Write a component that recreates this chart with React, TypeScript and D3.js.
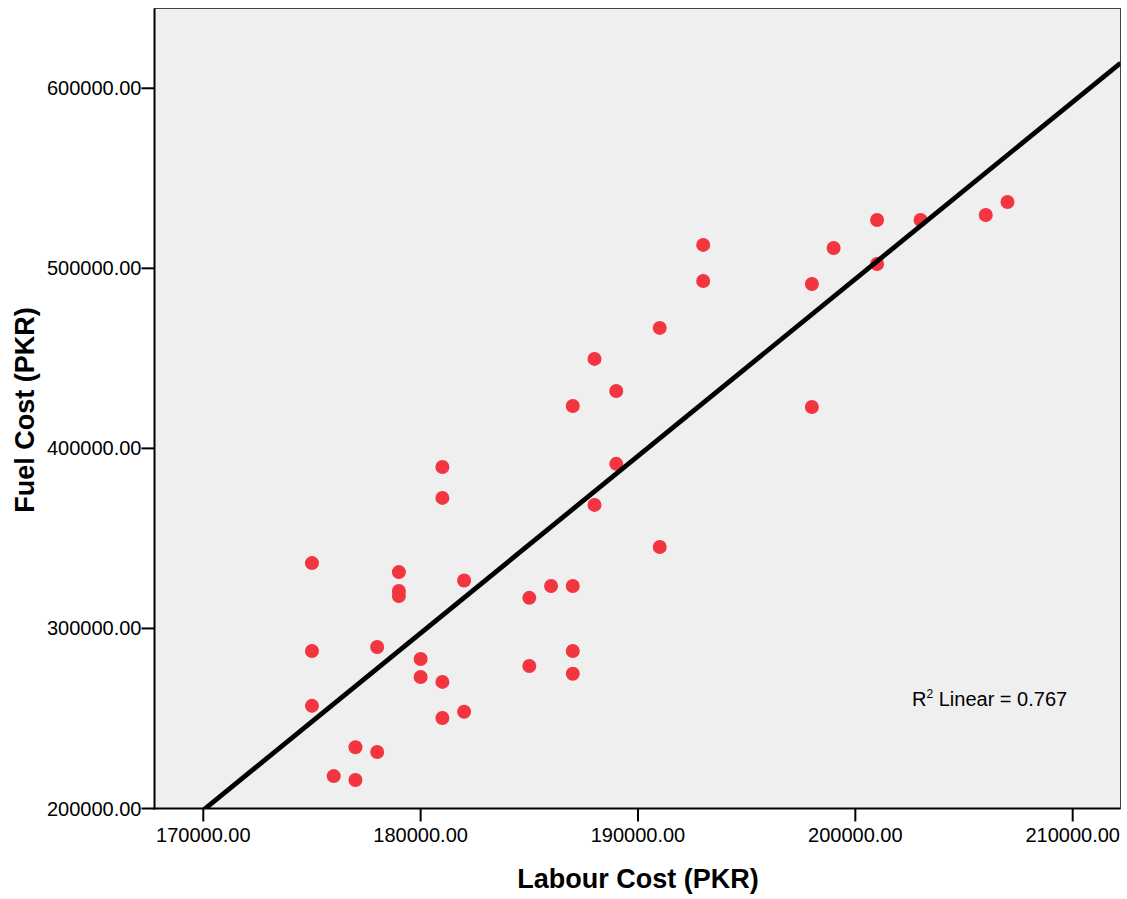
import React from "react";
import * as d3 from "d3";

const labourCost: number[] = [
  175000, 175000, 175000, 176000, 177000, 177000, 178000, 178000, 179000, 179000,
  179000, 180000, 180000, 181000, 181000, 181000, 181000, 182000, 182000, 185000,
  185000, 186000, 187000, 187000, 187000, 187000, 188000, 188000, 189000, 189000,
  191000, 191000, 193000, 193000, 198000, 198000, 199000, 201000, 201000, 203000,
  206000, 207000,
];
const fuelCost: number[] = [
  336300, 287500, 257000, 218000, 234000, 215800, 289700, 231400, 331300, 320800,
  318000, 283000, 273000, 389700, 372500, 270300, 250300, 326600, 253700, 317000,
  279100, 323600, 423500, 323600, 287500, 274800, 449700, 368600, 431900, 391400,
  466900, 345200, 513000, 493000, 491300, 423000, 511300, 526800, 502400, 526800,
  529600, 536800,
];
const xTicks: number[] = [170000, 180000, 190000, 200000, 210000];
const yTicks: number[] = [200000, 300000, 400000, 500000, 600000];
const xTitle = "Labour Cost (PKR)";
const yTitle = "Fuel Cost (PKR)";
const r2Label = "0.767";

const W = 1127;
const H = 899;
const L = 154.5, R = 1120.5, T = 8.5, B = 808.5;

export default function App() {
  const x = d3.scaleLinear().domain([167755, 212200]).range([L, R]);
  const y = d3.scaleLinear().domain([200000, 644300]).range([B, T]);

  const pts = labourCost.map((v, i) => [v, fuelCost[i]] as [number, number]);
  const mx = d3.mean(labourCost)!;
  const my = d3.mean(fuelCost)!;
  const sxy = d3.sum(pts, (p) => (p[0] - mx) * (p[1] - my));
  const sxx = d3.sum(pts, (p) => (p[0] - mx) ** 2);
  const slope = sxy / sxx;
  const icpt = my - slope * mx;
  const [d0, d1] = x.domain();
  const lineGen = d3
    .line<number>()
    .x((v) => x(v))
    .y((v) => y(icpt + slope * v));

  const font = "'Liberation Sans', Arial, Helvetica, sans-serif";

  return (
    <svg width={W} height={H} style={{ position: "absolute", left: 0, top: 0 }} fontFamily={font}>
      <defs>
        <clipPath id="plotClip">
          <rect x={L} y={T} width={R - L} height={B - T} />
        </clipPath>
      </defs>
      <rect x={L} y={T} width={R - L} height={B - T} fill="#efefef" stroke="#444" strokeWidth={1} />
      <g clipPath="url(#plotClip)">
        {pts.map((p, i) => (
          <circle key={i} cx={x(p[0])} cy={y(p[1])} r={7} fill="#f2353f" />
        ))}
        <path d={lineGen([d0, d1]) || ""} stroke="#000" strokeWidth={4.8} fill="none" />
      </g>
      {/* axes */}
      <line x1={L} x2={L} y1={T} y2={B + 1} stroke="#000" strokeWidth={2} />
      <line x1={L - 1} x2={R} y1={B} y2={B} stroke="#000" strokeWidth={2} />
      {xTicks.map((t) => (
        <g key={t}>
          <line x1={x(t)} x2={x(t)} y1={B} y2={B + 13} stroke="#000" strokeWidth={2} />
          <text x={x(t)} y={842} textAnchor="middle" fontSize={20} fill="#000">
            {t.toFixed(2)}
          </text>
        </g>
      ))}
      {yTicks.map((t) => (
        <g key={t}>
          <line x1={L - 13} x2={L} y1={y(t)} y2={y(t)} stroke="#000" strokeWidth={2} />
          <text x={L - 13} y={y(t) + 7} textAnchor="end" fontSize={20} fill="#000">
            {t.toFixed(2)}
          </text>
        </g>
      ))}
      <text x={638} y={888} textAnchor="middle" fontSize={27} fontWeight="bold" fill="#000">
        {xTitle}
      </text>
      <text
        transform={`translate(34, 410) rotate(-90)`}
        textAnchor="middle"
        fontSize={27}
        fontWeight="bold"
        fill="#000"
      >
        {yTitle}
      </text>
      <text x={912} y={706} fontSize={20} fill="#000">
        R<tspan fontSize={12} dy={-8}>2</tspan>
        <tspan dy={8}> Linear = {r2Label}</tspan>
      </text>
    </svg>
  );
}
